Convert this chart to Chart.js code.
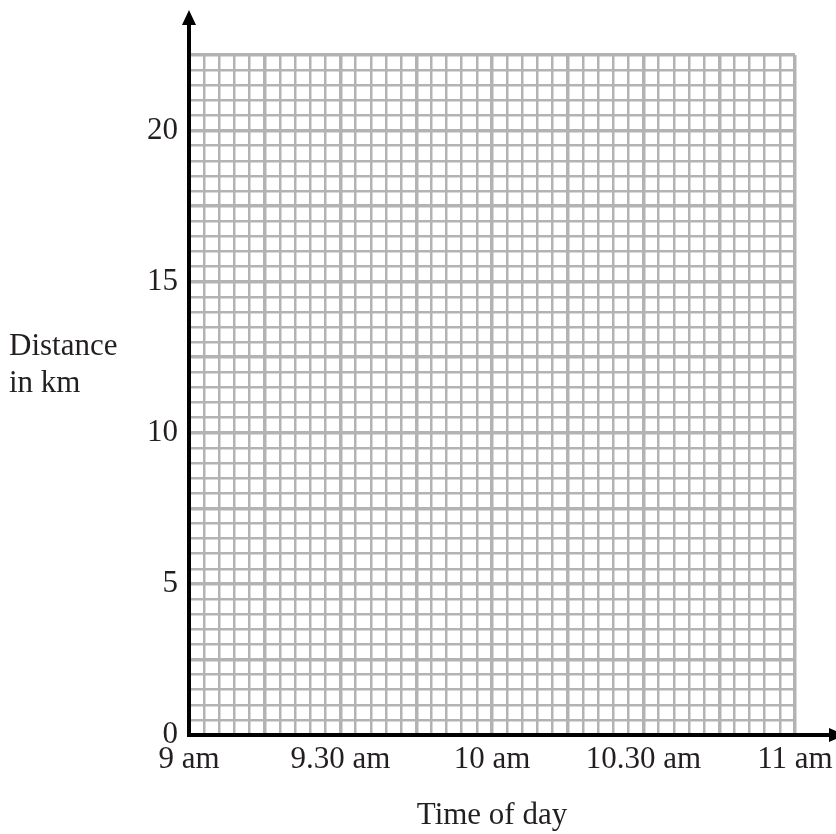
<!DOCTYPE html>
<html lang="en">
<head>
    <meta charset="UTF-8">
    <script src="https://cdn.jsdelivr.net/npm/chart.js"></script>
    <title>Time of day / Distance</title>
    <style>
        body { margin: 0; background: #fff; }
        #grid { display: block; }
    </style>
</head>
<body>

<canvas id="grid" width="836" height="834"></canvas>

<script>
    // Axis ranges and tick labels
    const xMinutes = [0, 120];          // 9 am .. 11 am, in minutes after 9 am
    const xMinorStep = 3;               // small squares: 3 minutes
    const xMajorStep = 15;              // thick lines: every 15 minutes
    const xTickMinutes = [0, 30, 60, 90, 120];
    const xTickLabels = ['9 am', '9.30 am', '10 am', '10.30 am', '11 am'];

    const yKm = [0, 22.5];
    const yMinorStep = 0.5;
    const yMajorStep = 2.5;
    const yTickValues = [0, 5, 10, 15, 20];

    const yTitleLines = ['Distance', 'in km'];
    const xTitle = 'Time of day';

    // the grid is blank: no journey plotted yet
    const journey = [];

    const ink = '#231f20';
    const gridGrey = '#b3b3b3';
    const serif = 'Liberation Serif';
    const fontSize = 31;

    const isMultiple = (v, step) => Math.abs(v / step - Math.round(v / step)) < 1e-6;

    // draws the black axes with arrows and the y title
    const axesPlugin = {
        id: 'axes',
        afterDraw(chart) {
            const ctx = chart.ctx;
            const x = chart.scales.x, y = chart.scales.y;
            const x0 = x.getPixelForValue(0);
            const y0 = y.getPixelForValue(0);
            ctx.save();
            ctx.strokeStyle = '#000';
            ctx.fillStyle = '#000';
            ctx.lineWidth = 4;
            ctx.lineCap = 'square';
            ctx.beginPath();
            ctx.moveTo(x0, y0);
            ctx.lineTo(x0, 22);
            ctx.moveTo(x0, y0);
            ctx.lineTo(830, y0);
            ctx.stroke();
            // arrow heads
            ctx.beginPath();
            ctx.moveTo(x0, 10);
            ctx.lineTo(x0 - 7, 25);
            ctx.lineTo(x0 + 7, 25);
            ctx.closePath();
            ctx.fill();
            ctx.beginPath();
            ctx.moveTo(845, y0);
            ctx.lineTo(829, y0 - 7);
            ctx.lineTo(829, y0 + 7);
            ctx.closePath();
            ctx.fill();

            ctx.fillStyle = ink;
            ctx.font = fontSize + 'px "' + serif + '"';
            ctx.textAlign = 'left';
            ctx.textBaseline = 'alphabetic';
            yTitleLines.forEach((t, i) => ctx.fillText(t, 9, 355 + i * 37));
            ctx.restore();
        }
    };

    new Chart(document.getElementById('grid'), {
        type: 'scatter',
        data: {
            datasets: [{
                label: 'Distance',
                data: journey,
                borderColor: ink,
                backgroundColor: ink
            }]
        },
        options: {
            responsive: false,
            animation: false,
            layout: { padding: { left: 0, right: 41, top: 55, bottom: 0 } },
            plugins: { legend: { display: false }, tooltip: { enabled: false } },
            scales: {
                x: {
                    type: 'linear',
                    min: xMinutes[0],
                    max: xMinutes[1],
                    border: { display: false },
                    grid: {
                        color: gridGrey,
                        drawTicks: false,
                        lineWidth: c => isMultiple(c.tick.value, xMajorStep) ? 3.5 : 2.5
                    },
                    ticks: {
                        stepSize: xMinorStep,
                        maxTicksLimit: 200,
                        autoSkip: false,
                        maxRotation: 0,
                        padding: 6,
                        color: ink,
                        font: { family: serif, size: fontSize },
                        callback: v => {
                            const i = xTickMinutes.indexOf(v);
                            return i >= 0 ? xTickLabels[i] : '';
                        }
                    },
                    title: {
                        display: true,
                        text: xTitle,
                        color: ink,
                        font: { family: serif, size: fontSize },
                        padding: { top: 18, bottom: 0 }
                    },
                    afterFit: s => {
                        s.height = 99;
                        s.paddingLeft = 0;
                        s.paddingRight = 0;
                    }
                },
                y: {
                    type: 'linear',
                    min: yKm[0],
                    max: yKm[1],
                    border: { display: false },
                    grid: {
                        color: gridGrey,
                        drawTicks: false,
                        lineWidth: c => isMultiple(c.tick.value, yMajorStep) ? 3.5 : 2.5
                    },
                    ticks: {
                        stepSize: yMinorStep,
                        maxTicksLimit: 200,
                        autoSkip: false,
                        padding: 11,
                        color: ink,
                        font: { family: serif, size: fontSize },
                        callback: v => yTickValues.some(t => Math.abs(t - v) < 1e-6) ? String(v) : ''
                    },
                    afterFit: s => { s.width = 189; }
                }
            }
        },
        plugins: [axesPlugin]
    });
</script>
</body>
</html>
